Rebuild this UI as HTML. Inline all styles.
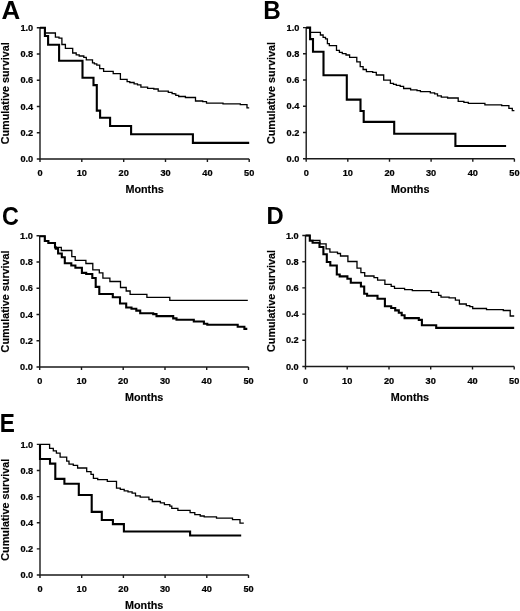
<!DOCTYPE html>
<html><head><meta charset="utf-8"><style>
html,body{margin:0;padding:0;background:#fff;width:520px;height:611px;overflow:hidden}
.t{stroke:#000;stroke-width:0.22px}
.u{stroke:#000;stroke-width:0.15px}
svg{display:block;will-change:transform;font-family:"Liberation Sans",sans-serif;font-weight:bold;fill:#000}
</style></head><body>
<svg width="520" height="611" viewBox="0 0 520 611">
<rect width="520" height="611" fill="#fff"/>
<g><path d="M40.0,27.7V159.0H249.2" fill="none" stroke="#1a1a1a" stroke-width="1.4"/><text x="33.2" y="162.1" class="t" text-anchor="end" font-size="9.2">0.0</text><text x="33.2" y="135.8" class="t" text-anchor="end" font-size="9.2">0.2</text><text x="33.2" y="109.6" class="t" text-anchor="end" font-size="9.2">0.4</text><text x="33.2" y="83.3" class="t" text-anchor="end" font-size="9.2">0.6</text><text x="33.2" y="57.1" class="t" text-anchor="end" font-size="9.2">0.8</text><text x="33.2" y="30.8" class="t" text-anchor="end" font-size="9.2">1.0</text><text x="40.0" y="176.0" class="t" text-anchor="middle" font-size="9.2">0</text><text x="81.8" y="176.0" class="t" text-anchor="middle" font-size="9.2">10</text><text x="123.7" y="176.0" class="t" text-anchor="middle" font-size="9.2">20</text><text x="165.5" y="176.0" class="t" text-anchor="middle" font-size="9.2">30</text><text x="207.4" y="176.0" class="t" text-anchor="middle" font-size="9.2">40</text><text x="249.2" y="176.0" class="t" text-anchor="middle" font-size="9.2">50</text><path d="M36.8,159.0H40.0M36.8,132.7H40.0M36.8,106.5H40.0M36.8,80.2H40.0M36.8,54.0H40.0M36.8,27.7H40.0M40.0,159.0V162.0M81.8,159.0V162.0M123.7,159.0V162.0M165.5,159.0V162.0M207.4,159.0V162.0M249.2,159.0V162.0" fill="none" stroke="#1a1a1a" stroke-width="1.4"/><text x="144.6" y="193.0" class="u" text-anchor="middle" font-size="10.8">Months</text><text transform="translate(9.0,93.3) rotate(-90)" class="u" text-anchor="middle" font-size="10.8">Cumulative survival</text><text transform="translate(1.60,18.50) scale(1.0344,1)" font-size="25.07">A</text><path d="M40.0,27.7 L44.9,27.7 L44.9,33.0 L55.4,33.0 L55.4,37.2 L59.0,37.2 L59.0,38.2 L61.9,38.2 L61.9,44.5 L65.4,44.5 L65.4,48.4 L72.7,48.4 L72.7,53.0 L76.2,53.0 L76.2,54.9 L79.2,54.9 L79.2,56.0 L83.8,56.0 L83.8,57.3 L86.3,57.3 L86.3,59.9 L92.5,59.9 L92.5,62.8 L94.4,62.8 L94.4,63.8 L96.8,63.8 L96.8,65.2 L99.7,65.2 L99.7,68.6 L103.6,68.6 L103.6,71.4 L113.2,71.4 L113.2,73.7 L120.4,73.7 L120.4,79.4 L127.1,79.4 L127.1,81.6 L129.8,81.6 L129.8,82.5 L134.1,82.5 L134.1,83.9 L137.5,83.9 L137.5,84.9 L140.9,84.9 L140.9,87.1 L147.6,87.1 L147.6,88.3 L153.8,88.3 L153.8,89.0 L158.2,89.0 L158.2,91.2 L168.3,91.2 L168.3,92.3 L172.1,92.3 L172.1,93.6 L174.3,93.6 L174.3,93.9 L175.8,93.9 L175.8,95.4 L178.7,95.4 L178.7,96.5 L185.4,96.5 L185.4,97.5 L195.5,97.5 L195.5,101.0 L202.7,101.0 L202.7,101.6 L206.5,101.6 L206.5,103.1 L223.0,103.1 L223.0,103.9 L240.3,103.9 L240.3,104.6 L247.0,104.6 L247.0,107.8 L249.2,107.8" fill="none" stroke="#000" stroke-width="1.3" stroke-linejoin="miter" stroke-linecap="butt"/><path d="M40.0,27.7 L44.9,27.7 L44.9,36.0 L48.1,36.0 L48.1,44.8 L59.1,44.8 L59.1,60.8 L82.5,60.8 L82.5,77.8 L93.5,77.8 L93.5,85.1 L96.8,85.1 L96.8,110.6 L100.1,110.6 L100.1,117.8 L110.1,117.8 L110.1,126.0 L131.1,126.0 L131.1,134.3 L192.9,134.3 L192.9,142.9 L249.2,142.9" fill="none" stroke="#000" stroke-width="2.1" stroke-linejoin="miter" stroke-linecap="butt"/></g>
<g><path d="M306.2,27.6V158.7H514.4" fill="none" stroke="#1a1a1a" stroke-width="1.4"/><text x="299.4" y="161.8" class="t" text-anchor="end" font-size="9.2">0.0</text><text x="299.4" y="135.6" class="t" text-anchor="end" font-size="9.2">0.2</text><text x="299.4" y="109.4" class="t" text-anchor="end" font-size="9.2">0.4</text><text x="299.4" y="83.1" class="t" text-anchor="end" font-size="9.2">0.6</text><text x="299.4" y="56.9" class="t" text-anchor="end" font-size="9.2">0.8</text><text x="299.4" y="30.7" class="t" text-anchor="end" font-size="9.2">1.0</text><text x="306.2" y="175.7" class="t" text-anchor="middle" font-size="9.2">0</text><text x="347.8" y="175.7" class="t" text-anchor="middle" font-size="9.2">10</text><text x="389.5" y="175.7" class="t" text-anchor="middle" font-size="9.2">20</text><text x="431.1" y="175.7" class="t" text-anchor="middle" font-size="9.2">30</text><text x="472.8" y="175.7" class="t" text-anchor="middle" font-size="9.2">40</text><text x="514.4" y="175.7" class="t" text-anchor="middle" font-size="9.2">50</text><path d="M303.0,158.7H306.2M303.0,132.5H306.2M303.0,106.3H306.2M303.0,80.0H306.2M303.0,53.8H306.2M303.0,27.6H306.2M306.2,158.7V161.7M347.8,158.7V161.7M389.5,158.7V161.7M431.1,158.7V161.7M472.8,158.7V161.7M514.4,158.7V161.7" fill="none" stroke="#1a1a1a" stroke-width="1.4"/><text x="410.3" y="192.7" class="u" text-anchor="middle" font-size="10.8">Months</text><text transform="translate(275.2,93.1) rotate(-90)" class="u" text-anchor="middle" font-size="10.8">Cumulative survival</text><text transform="translate(263.23,18.50) scale(0.9623,1)" font-size="25.22">B</text><path d="M306.2,27.6 L310.1,27.6 L310.1,32.4 L320.4,32.4 L320.4,35.0 L323.1,35.0 L323.1,37.4 L325.5,37.4 L325.5,38.8 L327.4,38.8 L327.4,43.6 L329.3,43.6 L329.3,45.6 L336.5,45.6 L336.5,50.4 L339.4,50.4 L339.4,52.3 L342.3,52.3 L342.3,53.7 L346.0,53.7 L346.0,55.0 L349.6,55.0 L349.6,57.3 L356.8,57.3 L356.8,61.8 L360.2,61.8 L360.2,66.6 L363.1,66.6 L363.1,69.5 L366.4,69.5 L366.4,71.7 L372.7,71.7 L372.7,72.4 L376.3,72.4 L376.3,75.0 L383.7,75.0 L383.7,80.1 L390.4,80.1 L390.4,83.3 L393.5,83.3 L393.5,84.4 L396.3,84.4 L396.3,85.4 L400.2,85.4 L400.2,86.3 L403.6,86.3 L403.6,88.5 L410.6,88.5 L410.6,89.9 L417.0,89.9 L417.0,90.7 L420.4,90.7 L420.4,91.6 L430.3,91.6 L430.3,92.8 L434.6,92.8 L434.6,93.9 L437.5,93.9 L437.5,95.9 L441.3,95.9 L441.3,97.1 L447.6,97.1 L447.6,98.0 L458.2,98.0 L458.2,101.3 L463.9,101.3 L463.9,102.3 L468.3,102.3 L468.3,103.3 L484.9,103.3 L484.9,104.9 L501.7,104.9 L501.7,105.7 L508.9,105.7 L508.9,108.3 L512.3,108.3 L512.3,110.7 L514.4,110.7" fill="none" stroke="#000" stroke-width="1.3" stroke-linejoin="miter" stroke-linecap="butt"/><path d="M306.2,27.6 L310.1,27.6 L310.1,39.1 L313.0,39.1 L313.0,51.8 L323.5,51.8 L323.5,75.3 L346.8,75.3 L346.8,99.6 L360.5,99.6 L360.5,111.0 L363.7,111.0 L363.7,121.9 L394.2,121.9 L394.2,133.7 L455.4,133.7 L455.4,146.0 L506.1,146.0" fill="none" stroke="#000" stroke-width="2.1" stroke-linejoin="miter" stroke-linecap="butt"/></g>
<g><path d="M39.7,235.8V367.0H248.5" fill="none" stroke="#1a1a1a" stroke-width="1.4"/><text x="32.9" y="370.1" class="t" text-anchor="end" font-size="9.2">0.0</text><text x="32.9" y="343.9" class="t" text-anchor="end" font-size="9.2">0.2</text><text x="32.9" y="317.6" class="t" text-anchor="end" font-size="9.2">0.4</text><text x="32.9" y="291.4" class="t" text-anchor="end" font-size="9.2">0.6</text><text x="32.9" y="265.1" class="t" text-anchor="end" font-size="9.2">0.8</text><text x="32.9" y="238.9" class="t" text-anchor="end" font-size="9.2">1.0</text><text x="39.7" y="384.0" class="t" text-anchor="middle" font-size="9.2">0</text><text x="81.5" y="384.0" class="t" text-anchor="middle" font-size="9.2">10</text><text x="123.2" y="384.0" class="t" text-anchor="middle" font-size="9.2">20</text><text x="165.0" y="384.0" class="t" text-anchor="middle" font-size="9.2">30</text><text x="206.7" y="384.0" class="t" text-anchor="middle" font-size="9.2">40</text><text x="248.5" y="384.0" class="t" text-anchor="middle" font-size="9.2">50</text><path d="M36.5,367.0H39.7M36.5,340.8H39.7M36.5,314.5H39.7M36.5,288.3H39.7M36.5,262.0H39.7M36.5,235.8H39.7M39.7,367.0V370.0M81.5,367.0V370.0M123.2,367.0V370.0M165.0,367.0V370.0M206.7,367.0V370.0M248.5,367.0V370.0" fill="none" stroke="#1a1a1a" stroke-width="1.4"/><text x="144.1" y="401.0" class="u" text-anchor="middle" font-size="10.8">Months</text><text transform="translate(8.7,301.4) rotate(-90)" class="u" text-anchor="middle" font-size="10.8">Cumulative survival</text><text transform="translate(1.89,225.10) scale(0.9226,1)" font-size="25.28">C</text><path d="M39.7,236.2 L44.8,236.2 L44.8,241.0 L48.4,241.0 L48.4,243.0 L55.0,243.0 L55.0,247.4 L61.3,247.4 L61.3,250.5 L71.8,250.5 L71.8,256.6 L75.2,256.6 L75.2,260.3 L85.9,260.3 L85.9,263.5 L92.8,263.5 L92.8,269.9 L99.3,269.9 L99.3,272.9 L102.9,272.9 L102.9,278.2 L109.9,278.2 L109.9,281.5 L120.5,281.5 L120.5,287.5 L126.2,287.5 L126.2,291.0 L130.1,291.0 L130.1,294.4 L146.9,294.4 L146.9,297.3 L169.8,297.3 L169.8,300.3 L247.8,300.3" fill="none" stroke="#000" stroke-width="1.3" stroke-linejoin="miter" stroke-linecap="butt"/><path d="M39.7,236.2 L44.8,236.2 L44.8,241.0 L48.4,241.0 L48.4,243.0 L55.0,243.0 L55.0,247.4 L55.8,247.4 L55.8,248.6 L58.1,248.6 L58.1,253.5 L61.8,253.5 L61.8,257.3 L64.8,257.3 L64.8,263.3 L71.3,263.3 L71.3,265.5 L75.4,265.5 L75.4,267.8 L81.9,267.8 L81.9,272.9 L86.2,272.9 L86.2,274.0 L92.3,274.0 L92.3,278.0 L95.7,278.0 L95.7,286.9 L99.3,286.9 L99.3,294.0 L112.8,294.0 L112.8,297.2 L120.0,297.2 L120.0,303.5 L126.2,303.5 L126.2,307.5 L131.5,307.5 L131.5,308.7 L136.3,308.7 L136.3,310.6 L140.2,310.6 L140.2,313.2 L153.2,313.2 L153.2,314.1 L156.5,314.1 L156.5,316.1 L173.2,316.1 L173.2,318.4 L176.5,318.4 L176.5,319.8 L193.8,319.8 L193.8,321.5 L203.9,321.5 L203.9,323.7 L207.3,323.7 L207.3,324.7 L237.7,324.7 L237.7,326.7 L244.4,326.7 L244.4,328.9 L247.3,328.9" fill="none" stroke="#000" stroke-width="2.1" stroke-linejoin="miter" stroke-linecap="butt"/></g>
<g><path d="M305.5,235.5V366.5H514.2" fill="none" stroke="#1a1a1a" stroke-width="1.4"/><text x="298.7" y="369.6" class="t" text-anchor="end" font-size="9.2">0.0</text><text x="298.7" y="343.4" class="t" text-anchor="end" font-size="9.2">0.2</text><text x="298.7" y="317.2" class="t" text-anchor="end" font-size="9.2">0.4</text><text x="298.7" y="291.0" class="t" text-anchor="end" font-size="9.2">0.6</text><text x="298.7" y="264.8" class="t" text-anchor="end" font-size="9.2">0.8</text><text x="298.7" y="238.6" class="t" text-anchor="end" font-size="9.2">1.0</text><text x="305.5" y="383.5" class="t" text-anchor="middle" font-size="9.2">0</text><text x="347.2" y="383.5" class="t" text-anchor="middle" font-size="9.2">10</text><text x="389.0" y="383.5" class="t" text-anchor="middle" font-size="9.2">20</text><text x="430.7" y="383.5" class="t" text-anchor="middle" font-size="9.2">30</text><text x="472.5" y="383.5" class="t" text-anchor="middle" font-size="9.2">40</text><text x="514.2" y="383.5" class="t" text-anchor="middle" font-size="9.2">50</text><path d="M302.3,366.5H305.5M302.3,340.3H305.5M302.3,314.1H305.5M302.3,287.9H305.5M302.3,261.7H305.5M302.3,235.5H305.5M305.5,366.5V369.5M347.2,366.5V369.5M389.0,366.5V369.5M430.7,366.5V369.5M472.5,366.5V369.5M514.2,366.5V369.5" fill="none" stroke="#1a1a1a" stroke-width="1.4"/><text x="409.9" y="400.5" class="u" text-anchor="middle" font-size="10.8">Months</text><text transform="translate(274.5,301.0) rotate(-90)" class="u" text-anchor="middle" font-size="10.8">Cumulative survival</text><text transform="translate(266.46,224.25) scale(0.9749,1)" font-size="24.42">D</text><path d="M305.5,235.5 L309.8,235.5 L309.8,240.3 L319.9,240.3 L319.9,243.9 L326.1,243.9 L326.1,248.9 L329.9,248.9 L329.9,252.2 L337.5,252.2 L337.5,253.5 L340.5,253.5 L340.5,256.0 L347.9,256.0 L347.9,261.5 L357.0,261.5 L357.0,268.1 L360.9,268.1 L360.9,272.6 L364.7,272.6 L364.7,276.0 L374.0,276.0 L374.0,277.6 L377.6,277.6 L377.6,280.1 L384.9,280.1 L384.9,284.4 L391.2,284.4 L391.2,286.3 L394.5,286.3 L394.5,288.3 L404.6,288.3 L404.6,289.7 L412.3,289.7 L412.3,290.7 L431.3,290.7 L431.3,292.3 L438.6,292.3 L438.6,295.4 L441.0,295.4 L441.0,297.1 L449.1,297.1 L449.1,297.8 L455.4,297.8 L455.4,300.2 L459.4,300.2 L459.4,304.0 L466.3,304.0 L466.3,305.6 L469.8,305.6 L469.8,306.7 L472.7,306.7 L472.7,308.5 L486.5,308.5 L486.5,309.6 L503.3,309.6 L503.3,310.5 L510.2,310.5 L510.2,316.0 L514.2,316.0" fill="none" stroke="#000" stroke-width="1.3" stroke-linejoin="miter" stroke-linecap="butt"/><path d="M305.5,235.5 L309.8,235.5 L309.8,240.8 L312.6,240.8 L312.6,242.8 L319.5,242.8 L319.5,247.0 L323.4,247.0 L323.4,254.3 L326.8,254.3 L326.8,262.0 L330.3,262.0 L330.3,265.5 L336.8,265.5 L336.8,274.5 L339.7,274.5 L339.7,276.4 L347.4,276.4 L347.4,278.8 L350.8,278.8 L350.8,282.7 L360.9,282.7 L360.9,286.5 L364.2,286.5 L364.2,293.8 L367.1,293.8 L367.1,295.7 L377.5,295.7 L377.5,298.8 L384.9,298.8 L384.9,306.3 L391.2,306.3 L391.2,308.0 L395.2,308.0 L395.2,310.4 L398.8,310.4 L398.8,312.8 L401.7,312.8 L401.7,315.2 L404.6,315.2 L404.6,318.1 L418.8,318.1 L418.8,319.9 L421.9,319.9 L421.9,325.2 L436.2,325.2 L436.2,327.9 L514.2,327.9" fill="none" stroke="#000" stroke-width="2.1" stroke-linejoin="miter" stroke-linecap="butt"/></g>
<g><path d="M40.0,444.4V575.0H248.5" fill="none" stroke="#1a1a1a" stroke-width="1.4"/><text x="33.2" y="578.1" class="t" text-anchor="end" font-size="9.2">0.0</text><text x="33.2" y="552.0" class="t" text-anchor="end" font-size="9.2">0.2</text><text x="33.2" y="525.9" class="t" text-anchor="end" font-size="9.2">0.4</text><text x="33.2" y="499.7" class="t" text-anchor="end" font-size="9.2">0.6</text><text x="33.2" y="473.6" class="t" text-anchor="end" font-size="9.2">0.8</text><text x="33.2" y="447.5" class="t" text-anchor="end" font-size="9.2">1.0</text><text x="40.0" y="592.0" class="t" text-anchor="middle" font-size="9.2">0</text><text x="81.7" y="592.0" class="t" text-anchor="middle" font-size="9.2">10</text><text x="123.4" y="592.0" class="t" text-anchor="middle" font-size="9.2">20</text><text x="165.1" y="592.0" class="t" text-anchor="middle" font-size="9.2">30</text><text x="206.8" y="592.0" class="t" text-anchor="middle" font-size="9.2">40</text><text x="248.5" y="592.0" class="t" text-anchor="middle" font-size="9.2">50</text><path d="M36.8,575.0H40.0M36.8,548.9H40.0M36.8,522.8H40.0M36.8,496.6H40.0M36.8,470.5H40.0M36.8,444.4H40.0M40.0,575.0V578.0M81.7,575.0V578.0M123.4,575.0V578.0M165.1,575.0V578.0M206.8,575.0V578.0M248.5,575.0V578.0" fill="none" stroke="#1a1a1a" stroke-width="1.4"/><text x="144.2" y="609.0" class="u" text-anchor="middle" font-size="10.8">Months</text><text transform="translate(9.0,509.7) rotate(-90)" class="u" text-anchor="middle" font-size="10.8">Cumulative survival</text><text transform="translate(-0.36,431.65) scale(0.9108,1)" font-size="24.85">E</text><path d="M40.0,444.4 L49.6,444.4 L49.6,448.4 L53.3,448.4 L53.3,450.8 L56.4,450.8 L56.4,453.2 L60.1,453.2 L60.1,457.1 L66.7,457.1 L66.7,461.2 L69.0,461.2 L69.0,464.2 L73.3,464.2 L73.3,465.4 L77.6,465.4 L77.6,468.0 L86.7,468.0 L86.7,471.7 L91.0,471.7 L91.0,474.4 L93.4,474.4 L93.4,478.3 L97.7,478.3 L97.7,479.7 L107.3,479.7 L107.3,481.3 L116.5,481.3 L116.5,488.1 L120.3,488.1 L120.3,489.3 L124.2,489.3 L124.2,490.8 L128.0,490.8 L128.0,491.8 L132.1,491.8 L132.1,493.2 L135.5,493.2 L135.5,495.9 L140.2,495.9 L140.2,497.2 L148.9,497.2 L148.9,499.5 L152.3,499.5 L152.3,501.5 L160.4,501.5 L160.4,502.9 L164.4,502.9 L164.4,504.6 L169.8,504.6 L169.8,506.2 L171.8,506.2 L171.8,508.3 L177.9,508.3 L177.9,510.3 L190.1,510.3 L190.1,512.7 L194.8,512.7 L194.8,514.7 L200.2,514.7 L200.2,516.0 L204.2,516.0 L204.2,516.8 L216.5,516.8 L216.5,518.1 L232.5,518.1 L232.5,519.6 L240.0,519.6 L240.0,523.1 L243.8,523.1" fill="none" stroke="#000" stroke-width="1.3" stroke-linejoin="miter" stroke-linecap="butt"/><path d="M40.0,444.4 L40.0,444.4 L40.0,459.0 L50.0,459.0 L50.0,463.6 L55.3,463.6 L55.3,478.9 L64.4,478.9 L64.4,483.7 L78.8,483.7 L78.8,495.0 L91.7,495.0 L91.7,511.9 L101.8,511.9 L101.8,520.0 L112.9,520.0 L112.9,524.1 L123.9,524.1 L123.9,531.5 L190.1,531.5 L190.1,535.5 L241.2,535.5" fill="none" stroke="#000" stroke-width="2.1" stroke-linejoin="miter" stroke-linecap="butt"/></g>
</svg>
</body></html>
